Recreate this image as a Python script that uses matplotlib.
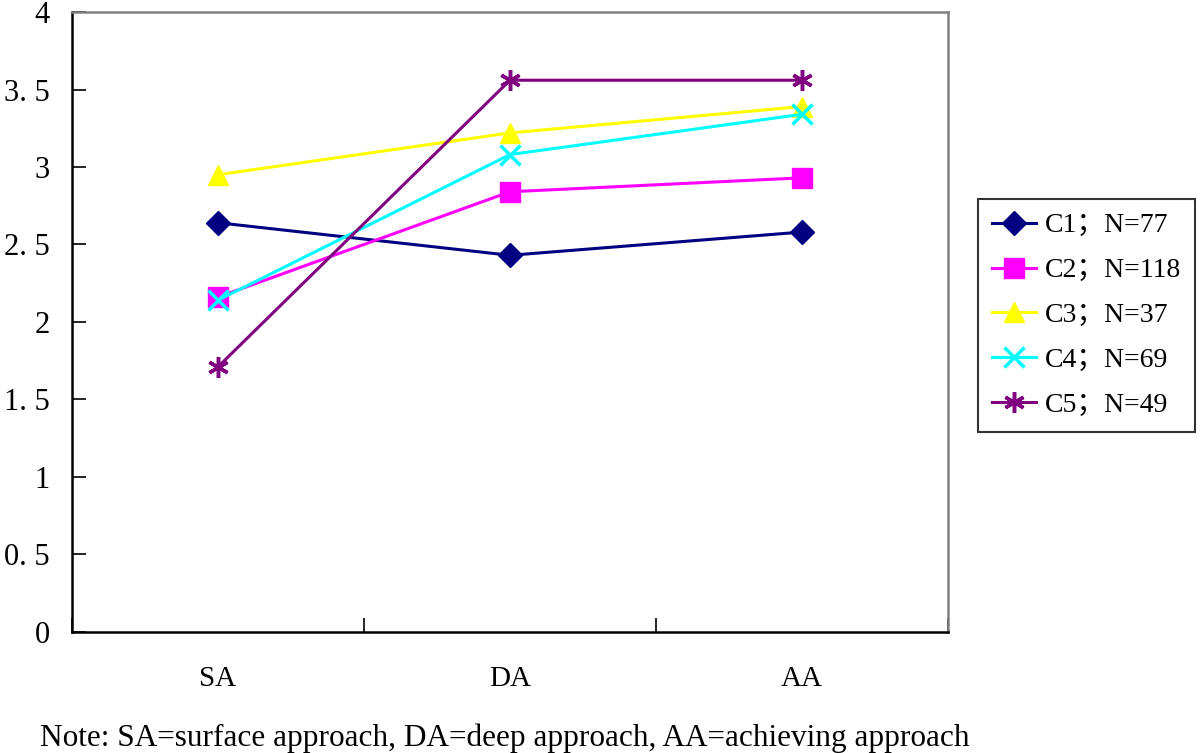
import matplotlib
matplotlib.use("Agg")
import matplotlib.pyplot as plt
import numpy as np

categories = ["SA", "DA", "AA"]
series_names = ["C1\uff1bN=77", "C2\uff1bN=118", "C3\uff1bN=37", "C4\uff1bN=69", "C5\uff1bN=49"]
c1 = [2.64, 2.43, 2.58]
c2 = [2.16, 2.84, 2.93]
c3 = [2.95, 3.22, 3.39]
c4 = [2.14, 3.08, 3.34]
c5 = [1.71, 3.56, 3.56]
y_ticks = [0, 0.5, 1, 1.5, 2, 2.5, 3, 3.5, 4]
y_tick_labels = ["0", "0. 5", "1", "1. 5", "2", "2. 5", "3", "3. 5", "4"]
note = "Note: SA=surface approach, DA=deep approach, AA=achieving approach"

colors = ["#000080", "#FF00FF", "#FFFF00", "#00FFFF", "#800080"]
markers = ["D", "s", "^", "x", (6, 2, 0)]
msizes = [12, 14, 15, 14, 15]

fig = plt.figure(figsize=(12, 7.53), dpi=100)
ax = fig.add_axes([0.06, 0.161, 0.73, 0.823])

x = np.arange(len(categories)) + 0.5
for vals, name, col, mk, ms in zip([c1, c2, c3, c4, c5], series_names, colors, markers, msizes):
    ax.plot(x, vals, color=col, marker=mk, markersize=ms, linewidth=2.2,
            markeredgewidth=2.5 if mk in ("x", (6, 2, 0)) else 1, label=name)

ax.set_xlim(0, 3)
ax.set_ylim(0, 4)
ax.set_xticks([0, 1, 2, 3])
ax.set_xticklabels([])
ax.set_xticks(x, minor=True)
ax.set_xticklabels(categories, minor=True)
ax.tick_params(axis="x", which="major", direction="in", length=10, width=1.2)
ax.tick_params(axis="x", which="minor", length=0, pad=25, labelsize=21)
ax.set_yticks(y_ticks)
ax.set_yticklabels(y_tick_labels)
ax.tick_params(axis="y", direction="in", length=10, width=1.2, labelsize=22, pad=16)
for lab in ax.get_xticklabels(minor=True) + ax.get_yticklabels():
    lab.set_family(["Liberation Serif", "Noto Sans CJK SC"])

ax.spines["left"].set_color("black")
ax.spines["bottom"].set_color("black")
ax.spines["left"].set_linewidth(1.8)
ax.spines["bottom"].set_linewidth(1.8)
ax.spines["top"].set_color("#808080")
ax.spines["right"].set_color("#808080")
ax.spines["top"].set_linewidth(1.8)
ax.spines["right"].set_linewidth(1.8)

leg = fig.legend(loc="upper left", bbox_to_anchor=(978 / 1200, 1 - 199 / 753),
                 frameon=True, fancybox=False, edgecolor="black",
                 prop={"family": ["Liberation Serif", "Noto Sans CJK SC"], "size": 20},
                 handlelength=1.6, handletextpad=0.3, borderpad=0.5, labelspacing=0.7,
                 borderaxespad=0)
leg.get_frame().set_linewidth(1.5)

fig.text(40 / 1200, 1 - 738 / 753, note, ha="left", va="center", fontsize=22.5,
         family="Liberation Serif")

fig.savefig("out.png", dpi=100, facecolor="white")
